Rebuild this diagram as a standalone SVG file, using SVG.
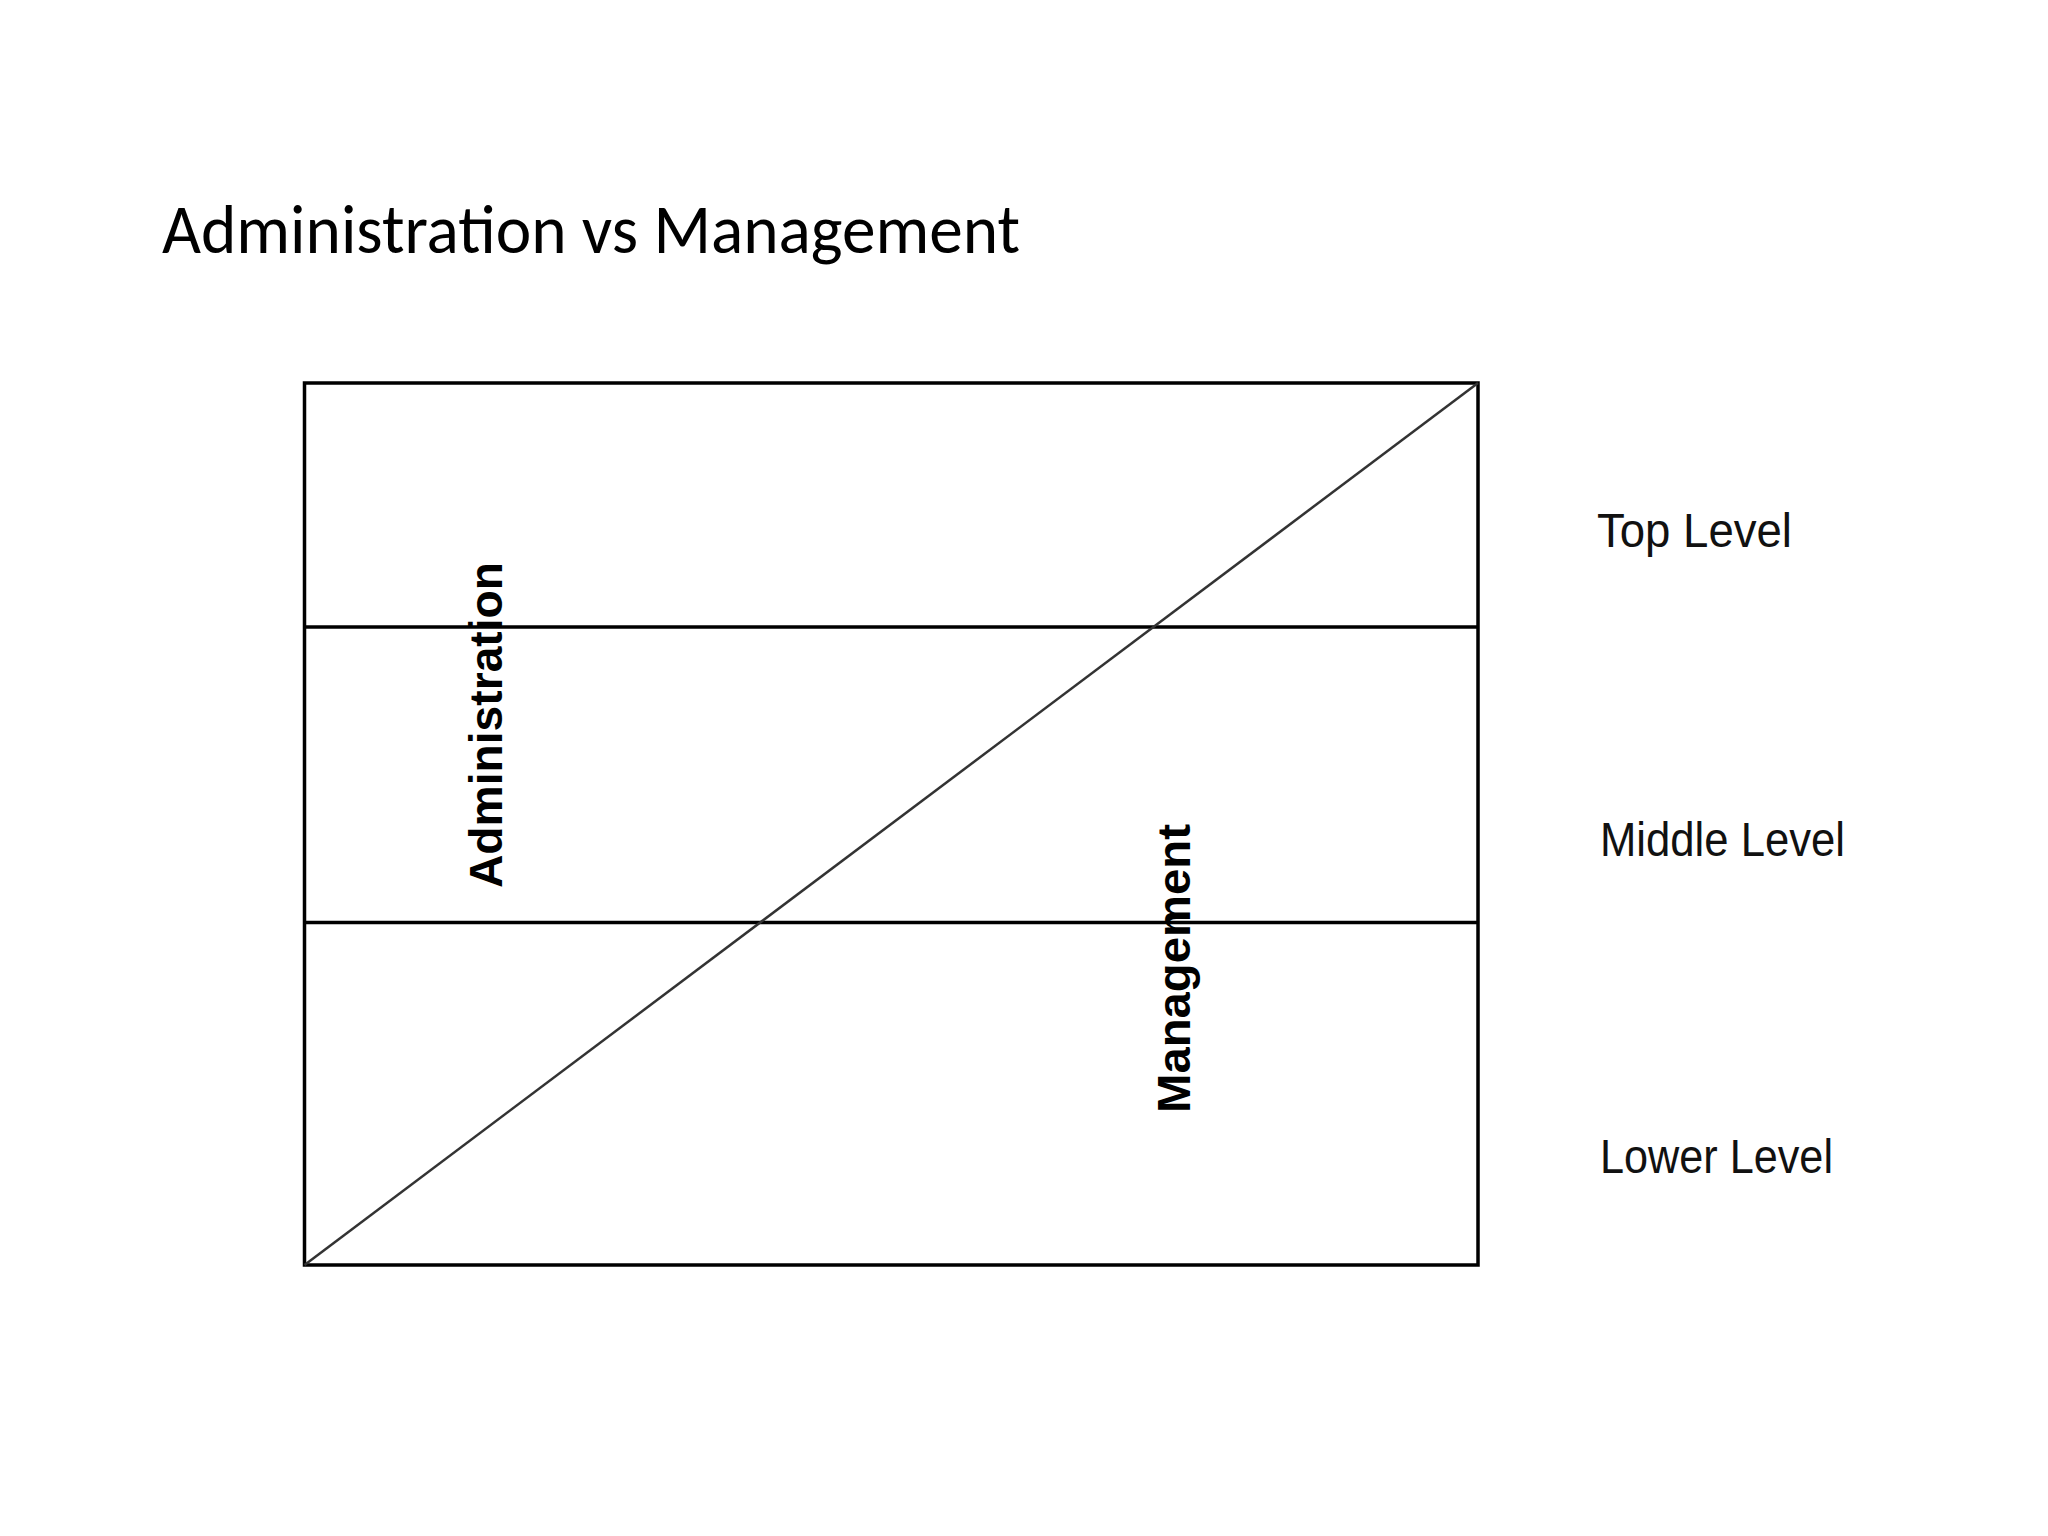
<svg xmlns="http://www.w3.org/2000/svg" width="2048" height="1536" viewBox="0 0 2048 1536">
<style>
.frame{fill:none;stroke:#000;stroke-width:3.5}
.rule{stroke:#000;stroke-width:3.5}
.diag{stroke:#333;stroke-width:2.5}
.title{font-family:Carlito,Lato,"Open Sans",sans-serif;font-size:70px;fill:#000}
.vlabel{font-family:"Liberation Sans",Arial,sans-serif;font-weight:bold;font-size:46px;fill:#000}
.level{font-family:"Liberation Sans",Arial,sans-serif;font-size:48px;fill:#111}
</style>
<rect width="2048" height="1536" fill="#fff"/>
<text id="title" class="title" x="162" y="253" textLength="858" lengthAdjust="spacingAndGlyphs">Administration vs Management</text>
<g id="chart">
<rect class="frame" x="304.5" y="383" width="1173.5" height="882"/>
</g>
<g id="connectors">
<line class="rule" x1="304.5" y1="627" x2="1478" y2="627"/>
<line class="rule" x1="304.5" y1="922.5" x2="1478" y2="922.5"/>
<line class="diag" x1="304.5" y1="1265" x2="1478" y2="383"/>
</g>
<g id="administration">
<text class="vlabel" transform="translate(502,888) rotate(-90)" textLength="326" lengthAdjust="spacingAndGlyphs">Administration</text>
</g>
<g id="management">
<text class="vlabel" transform="translate(1190,1113) rotate(-90)" textLength="289" lengthAdjust="spacingAndGlyphs">Management</text>
</g>
<g id="top-level">
<text class="level" x="1597" y="547" textLength="195" lengthAdjust="spacingAndGlyphs">Top Level</text>
</g>
<g id="middle-level">
<text class="level" x="1600" y="856" textLength="245" lengthAdjust="spacingAndGlyphs">Middle Level</text>
</g>
<g id="lower-level">
<text class="level" x="1600" y="1173" textLength="233" lengthAdjust="spacingAndGlyphs">Lower Level</text>
</g>
</svg>
